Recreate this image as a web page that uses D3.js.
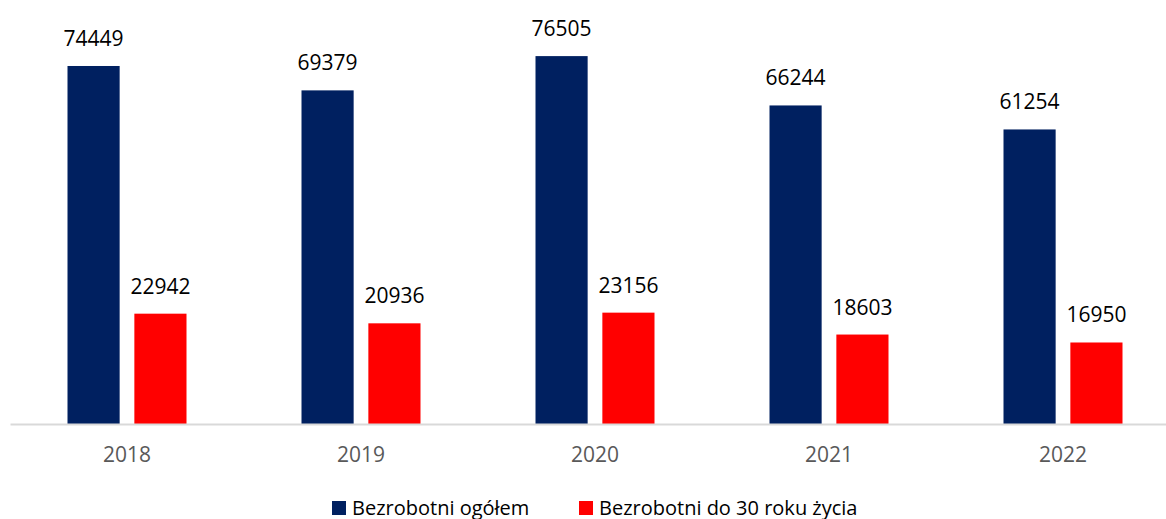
<!DOCTYPE html>
<html>
<head>
<meta charset="utf-8">
<script src="https://cdn.jsdelivr.net/npm/d3@7"></script>
<style>
  body { margin: 0; background: #fff; }
  text { font-family: "Open Sans", "Liberation Sans", sans-serif; }
</style>
</head>
<body>
<svg id="chart" width="1166" height="519"></svg>
<script>
const years = ["2018", "2019", "2020", "2021", "2022"]
const ogolem = [74449, 69379, 76505, 66244, 61254]
const do30 = [22942, 20936, 23156, 18603, 16950]
const seriesNames = ["Bezrobotni ogółem", "Bezrobotni do 30 roku życia"]
const colors = ["#002060", "#ff0000"]

const svg = d3.select("#chart")
const baseY = 424

const x = d3.scaleBand().domain(years).range([10, 1180]).paddingInner(0).paddingOuter(0)
const inner = d3.scaleBand().domain([0, 1]).range([x.bandwidth() / 2 - 59.5, x.bandwidth() / 2 + 59.5]).paddingInner(0.22)
const y = d3.scaleLinear().domain([0, 80000]).range([baseY, baseY - 384.7])

const rows = years.map((yr, i) => ({ yr, vals: [ogolem[i], do30[i]] }))

const g = svg.selectAll("g.year").data(rows).enter().append("g")
  .attr("class", "year")
  .attr("transform", d => "translate(" + x(d.yr) + ",0)")

g.selectAll("rect").data(d => d.vals).enter().append("rect")
  .attr("x", (d, i) => inner(i))
  .attr("width", inner.bandwidth())
  .attr("y", d => y(d))
  .attr("height", d => baseY - y(d))
  .attr("fill", (d, i) => colors[i])

g.selectAll("text.val").data(d => d.vals).enter().append("text")
  .attr("class", "val")
  .attr("x", (d, i) => inner(i) + inner.bandwidth() / 2)
  .attr("y", d => y(d) - 20)
  .attr("text-anchor", "middle")
  .attr("font-size", 21)
  .attr("fill", "#000")
  .text(d => d)

// axis
const axis = d3.axisBottom(x).tickSize(0).tickPadding(23)
const ax = svg.append("g").attr("transform", "translate(0," + baseY + ")").call(axis)
ax.select(".domain").attr("stroke", "#d9d9d9").attr("stroke-width", 2)
ax.selectAll("text").attr("font-size", 21).attr("fill", "#595959")
  .attr("font-family", "'Open Sans', 'Liberation Sans', sans-serif")

// legend
const legX = [332, 579]
const leg = svg.selectAll("g.leg").data(seriesNames).enter().append("g")
  .attr("class", "leg")
  .attr("transform", (d, i) => "translate(" + legX[i] + ",501)")
leg.append("rect").attr("width", 14).attr("height", 14).attr("fill", (d, i) => colors[i])
leg.append("text").attr("x", 20).attr("y", 13.5).attr("font-size", 20).attr("fill", "#000").text(d => d)
</script>
</body>
</html>
